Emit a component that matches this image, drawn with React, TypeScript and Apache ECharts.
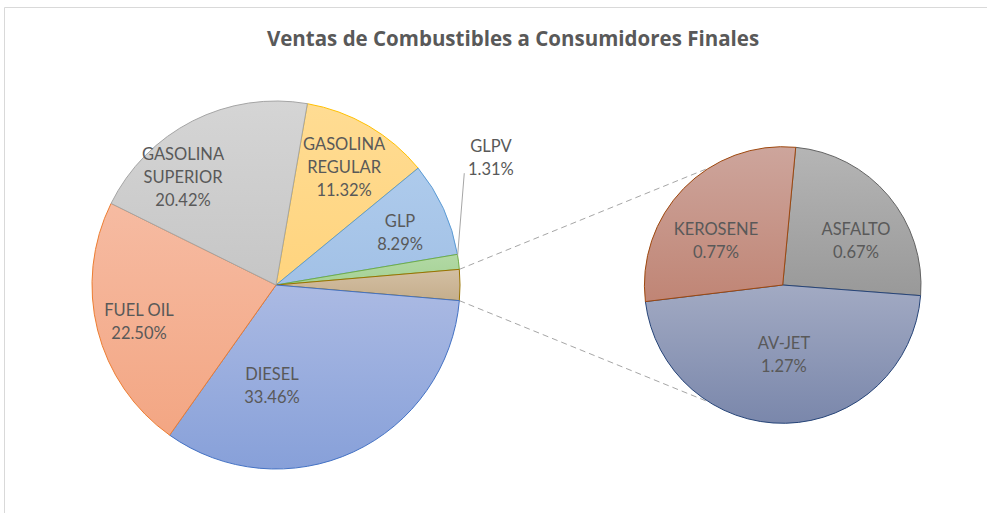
import React, { useEffect, useRef } from "react";
import * as echarts from "echarts";

// ---------- data ----------
const titleText = "Ventas de Combustibles a Consumidores Finales";
const primaryCategories = ["GASOLINA REGULAR", "GLP", "GLPV", "DIESEL", "FUEL OIL", "GASOLINA SUPERIOR"];
const primaryValues = [11.32, 8.29, 1.31, 33.46, 22.5, 20.42];
const secondaryCategories = ["ASFALTO", "AV-JET", "KEROSENE"];
const secondaryValues = [0.67, 1.27, 0.77];
const otherName = "OTROS";
const otherInsertAfter = "GLPV";

// ---------- styles / layout ----------
const FONT = "Lato";
const TITLE_FONT = "Open Sans";
const TEXT_COLOR = "#595959";
const sliceStyle: Record<string, { top: string; bottom: string; border: string }> = {
  "GASOLINA REGULAR": { top: "#FFDC93", bottom: "#FFD47E", border: "#FFC000" },
  GLP: { top: "#AECBEC", bottom: "#A2C1E6", border: "#5B9BD5" },
  GLPV: { top: "#B2D9A5", bottom: "#A5D194", border: "#70AD47" },
  OTROS: { top: "#D3BFA3", bottom: "#C5AE8C", border: "#997300" },
  DIESEL: { top: "#ABBAE3", bottom: "#87A0D9", border: "#4472C4" },
  "FUEL OIL": { top: "#F6BBA2", bottom: "#F3A683", border: "#ED7D31" },
  "GASOLINA SUPERIOR": { top: "#D5D5D5", bottom: "#C6C6C6", border: "#A5A5A5" },
  ASFALTO: { top: "#B5B5B5", bottom: "#999999", border: "#636363" },
  "AV-JET": { top: "#A2AAC3", bottom: "#7A87AB", border: "#264478" },
  KEROSENE: { top: "#CDA59C", bottom: "#C08575", border: "#9E480E" },
};

const mainCenter = [276, 285];
const mainR = 184;
const subCenter = [782.7, 285];
const subR = 138.3;
const subStartAngle = 84.6;
const connectorAngle = 122;

// label placement: [fraction of radius, angle in degrees]
const mainLabelPlace: Record<string, [number, number]> = {
  "GASOLINA REGULAR": [0.74, 60],
  GLP: [0.733, 23.1],
  GLPV: [1.357, 30.6],
  DIESEL: [0.544, 267.7],
  "FUEL OIL": [0.771, 195.1],
  "GASOLINA SUPERIOR": [0.775, 130.7],
};
const subLabelPlace: Record<string, [number, number]> = {
  KEROSENE: [0.578, 146.6],
  ASFALTO: [0.618, 31],
  "AV-JET": [0.506, 271],
};
// leader line of the outside label (GLPV): top end in polar coords
const leaderTop: [number, number] = [1.19, 30.7];

function grad(name: string) {
  const s = sliceStyle[name];
  return new echarts.graphic.LinearGradient(0, 0, 0, 1, [
    { offset: 0, color: s.top },
    { offset: 1, color: s.bottom },
  ]);
}

export default function App() {
  const ref = useRef<HTMLDivElement>(null);
  useEffect(() => {
    if (!ref.current) return;
    const chart = echarts.init(ref.current, undefined, { renderer: "svg" });

    const otherValue = secondaryValues.reduce((a, b) => a + b, 0);
    const mainNames: string[] = [];
    const mainVals: number[] = [];
    primaryCategories.forEach((c, i) => {
      mainNames.push(c);
      mainVals.push(primaryValues[i]);
      if (c === otherInsertAfter) {
        mainNames.push(otherName);
        mainVals.push(otherValue);
      }
    });
    const total = mainVals.reduce((a, b) => a + b, 0);
    // rotate so the "other" slice is centred at 3 o'clock
    let before = 0;
    for (let i = 0; i < mainNames.length; i++) {
      if (mainNames[i] === otherName) break;
      before += mainVals[i];
    }
    const mainStart = ((before + otherValue / 2) / total) * 360;
    const halfOther = ((otherValue / 2) / total) * 360;
    // upper edge angle of the slice just before "other" (GLPV)
    const glpvUpper = halfOther + (mainVals[mainNames.indexOf(otherInsertAfter)] / total) * 360;

    const labelBase = {
      fontFamily: FONT,
      fontSize: 16.5,
      color: TEXT_COLOR,
      lineHeight: 23,
      formatter: (p: any) => `${String(p.name).replace("GASOLINA ", "GASOLINA\n")}\n${Number(p.value).toFixed(2)}%`,
    };

    const mainData = mainNames.map((n, i) => {
      const s = sliceStyle[n];
      const item: any = {
        name: n,
        value: mainVals[i],
        itemStyle: { color: grad(n), borderColor: s.border, borderWidth: 1 },
      };
      if (n === otherName) {
        item.label = { show: false };
      } else if (n === "GLPV") {
        item.label = { show: true, position: "outside" };
      }
      return item;
    });
    const subData = secondaryCategories.map((n, i) => {
      const s = sliceStyle[n];
      return {
        name: n,
        value: secondaryValues[i],
        itemStyle: { color: grad(n), borderColor: s.border, borderWidth: 1 },
      };
    });

    const rad = (d: number) => (d * Math.PI) / 180;
    const place = (c: number[], r: number, p: [number, number]) => ({
      x: c[0] + r * p[0] * Math.cos(rad(p[1])),
      y: c[1] - r * p[0] * Math.sin(rad(p[1])),
    });

    const lineStyle = { stroke: "#A6A6A6", lineWidth: 1, lineDash: [6, 4] };
    const upperFrom = place(mainCenter, mainR, [1, halfOther]);
    const lowerFrom = place(mainCenter, mainR, [1, -halfOther]);
    const upperTo = place(subCenter, subR, [1, connectorAngle]);
    const lowerTo = place(subCenter, subR, [1, -connectorAngle]);
    const leadA = place(mainCenter, mainR, leaderTop);
    const leadB = place(mainCenter, mainR, [1, glpvUpper - 0.4]);

    chart.setOption({
      animation: false,
      backgroundColor: "#FFFFFF",
      title: {
        text: titleText,
        left: 508,
        top: 22,
        textAlign: "center",
        textStyle: { fontFamily: TITLE_FONT, fontSize: 20.5, fontWeight: "bold", color: TEXT_COLOR },
      },
      graphic: [
        {
          type: "rect",
          shape: { x: 4.5, y: 7.5, width: 1100, height: 700 },
          style: { fill: "none", stroke: "#D9D9D9", lineWidth: 1 },
          silent: true,
          z: -10,
        },
        { type: "line", shape: { x1: upperFrom.x, y1: upperFrom.y, x2: upperTo.x, y2: upperTo.y }, style: lineStyle, silent: true, z: -5 },
        { type: "line", shape: { x1: lowerFrom.x, y1: lowerFrom.y, x2: lowerTo.x, y2: lowerTo.y }, style: lineStyle, silent: true, z: -5 },
        { type: "line", shape: { x1: leadA.x, y1: leadA.y, x2: leadB.x, y2: leadB.y }, style: { stroke: "#A6A6A6", lineWidth: 1 }, silent: true, z: 10 },
      ],
      series: [
        {
          type: "pie",
          center: mainCenter,
          radius: mainR,
          startAngle: mainStart,
          clockwise: true,
          avoidLabelOverlap: false,
          silent: true,
          emphasis: { disabled: true },
          label: { ...labelBase, show: true, position: "inside" },
          labelLine: { show: false },
          labelLayout: (params: any) => {
            const n = mainNames[params.dataIndex];
            const p = mainLabelPlace[n];
            if (!p) return {};
            const pt = place(mainCenter, mainR, p);
            return { x: pt.x, y: pt.y, align: "center", verticalAlign: "middle" };
          },
          data: mainData,
        },
        {
          type: "pie",
          center: subCenter,
          radius: subR,
          startAngle: subStartAngle,
          clockwise: true,
          avoidLabelOverlap: false,
          silent: true,
          emphasis: { disabled: true },
          label: { ...labelBase, show: true, position: "inside" },
          labelLine: { show: false },
          labelLayout: (params: any) => {
            const n = secondaryCategories[params.dataIndex];
            const p = subLabelPlace[n];
            if (!p) return {};
            const pt = place(subCenter, subR, p);
            return { x: pt.x, y: pt.y, align: "center", verticalAlign: "middle" };
          },
          data: subData,
        },
      ],
    });
    return () => chart.dispose();
  }, []);
  return <div ref={ref} style={{ position: "fixed", left: 0, top: 0, width: 987, height: 513 }} />;
}
